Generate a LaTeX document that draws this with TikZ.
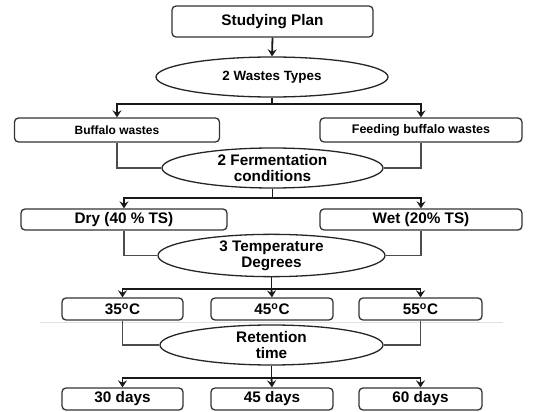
\documentclass[tikz,border=0pt]{standalone}
\usepackage{fontspec}
\setmainfont{Liberation Sans}
\usetikzlibrary{shapes.geometric,arrows.meta,calc}
\begin{document}
\begin{tikzpicture}[x=1pt,y=-1pt,
  boxnode/.style={draw=black!80,line width=1.3pt,rounded corners=4pt,inner sep=0pt,
    font=\fontsize{15.3}{16}\selectfont\bfseries,align=center},
  ellnode/.style={ellipse,draw=black!85,line width=1.3pt,inner sep=0pt,
    font=\fontsize{15.3}{16}\selectfont\bfseries,align=center},
  conn/.style={draw=black!90,line width=1.8pt},
  arr/.style={conn,-{Stealth[length=7pt,width=9pt,inset=2.5pt]}},
  thin/.style={draw=black!70,line width=1.2pt}]
\useasboundingbox (0,0) rectangle (542,412);
\draw[black!12,line width=0.8pt] (40,322) -- (503,322);

\node[boxnode,minimum width=201pt,minimum height=31pt] (plan) at (272.5,21.5) {Studying Plan};
\node[ellnode,minimum width=232pt,minimum height=40pt,font=\fontsize{13.4}{15}\selectfont\bfseries] (types) at (272,77) {2 Wastes Types};
\node[boxnode,minimum width=205pt,minimum height=24pt,font=\fontsize{12}{14}\selectfont\bfseries] (buf) at (117,130) {Buffalo wastes};
\node[boxnode,minimum width=202pt,minimum height=24pt,font=\fontsize{12.5}{14}\selectfont\bfseries] (feed) at (421,130) {Feeding buffalo wastes};
\node[ellnode,minimum width=221pt,minimum height=40pt] (ferm) at (272.5,168) {2 Fermentation\\conditions};
\node[boxnode,minimum width=206pt,minimum height=21pt] (dry) at (124,219.5) {Dry (40 \% TS)};
\node[boxnode,minimum width=202pt,minimum height=21pt] (wet) at (421,219.5) {Wet (20\% TS)};
\node[ellnode,minimum width=227pt,minimum height=39pt] (temp) at (271.5,255.5) {3 Temperature\\Degrees};
\node[boxnode,minimum width=121pt,minimum height=22pt] (t35) at (122.5,309) {35\textsuperscript{o}C};
\node[boxnode,minimum width=122pt,minimum height=22pt] (t45) at (272,309) {45\textsuperscript{o}C};
\node[boxnode,minimum width=123pt,minimum height=22pt] (t55) at (420.5,309) {55\textsuperscript{o}C};
\node[ellnode,minimum width=223pt,minimum height=40pt] (ret) at (271.5,345) {Retention\\time};
\node[boxnode,minimum width=121pt,minimum height=22pt] (d30) at (122.5,399) {30 days};
\node[boxnode,minimum width=122pt,minimum height=22pt] (d45) at (272,399) {45 days};
\node[boxnode,minimum width=123pt,minimum height=22pt] (d60) at (420.5,399) {60 days};

% level 1
\draw[arr] (plan.south) -- (types.north);
% level 2
\draw[conn] (types.south) -- ++(0,6) coordinate (j1);
\draw[arr] (j1) -| (buf.north);
\draw[arr] (j1) -| (feed.north);
% into fermentation
\draw[thin] (buf.south) |- (ferm.west);
\draw[thin] (feed.south) |- (ferm.east);
\draw[conn] (ferm.south) -- ++(0,9) coordinate (j2);
\draw[arr] (j2) -| (dry.north);
\draw[arr] (j2) -| (wet.north);
% into temperature
\draw[thin] (dry.south) |- (temp.west);
\draw[thin] (wet.south) |- (temp.east);
\draw[conn] (temp.south) -- ++(0,12) coordinate (j3);
\draw[arr] (j3) -| (t35.north);
\draw[arr] (j3) -- (t45.north);
\draw[arr] (j3) -| (t55.north);
% into retention
\draw[thin] (t35.south) |- (ret.west);
\draw[thin] (t55.south) |- (ret.east);
\draw[conn] (ret.south) -- ++(0,12) coordinate (j4);
\draw[arr] (j4) -| (d30.north);
\draw[arr] (j4) -- (d45.north);
\draw[arr] (j4) -| (d60.north);
\end{tikzpicture}
\end{document}
